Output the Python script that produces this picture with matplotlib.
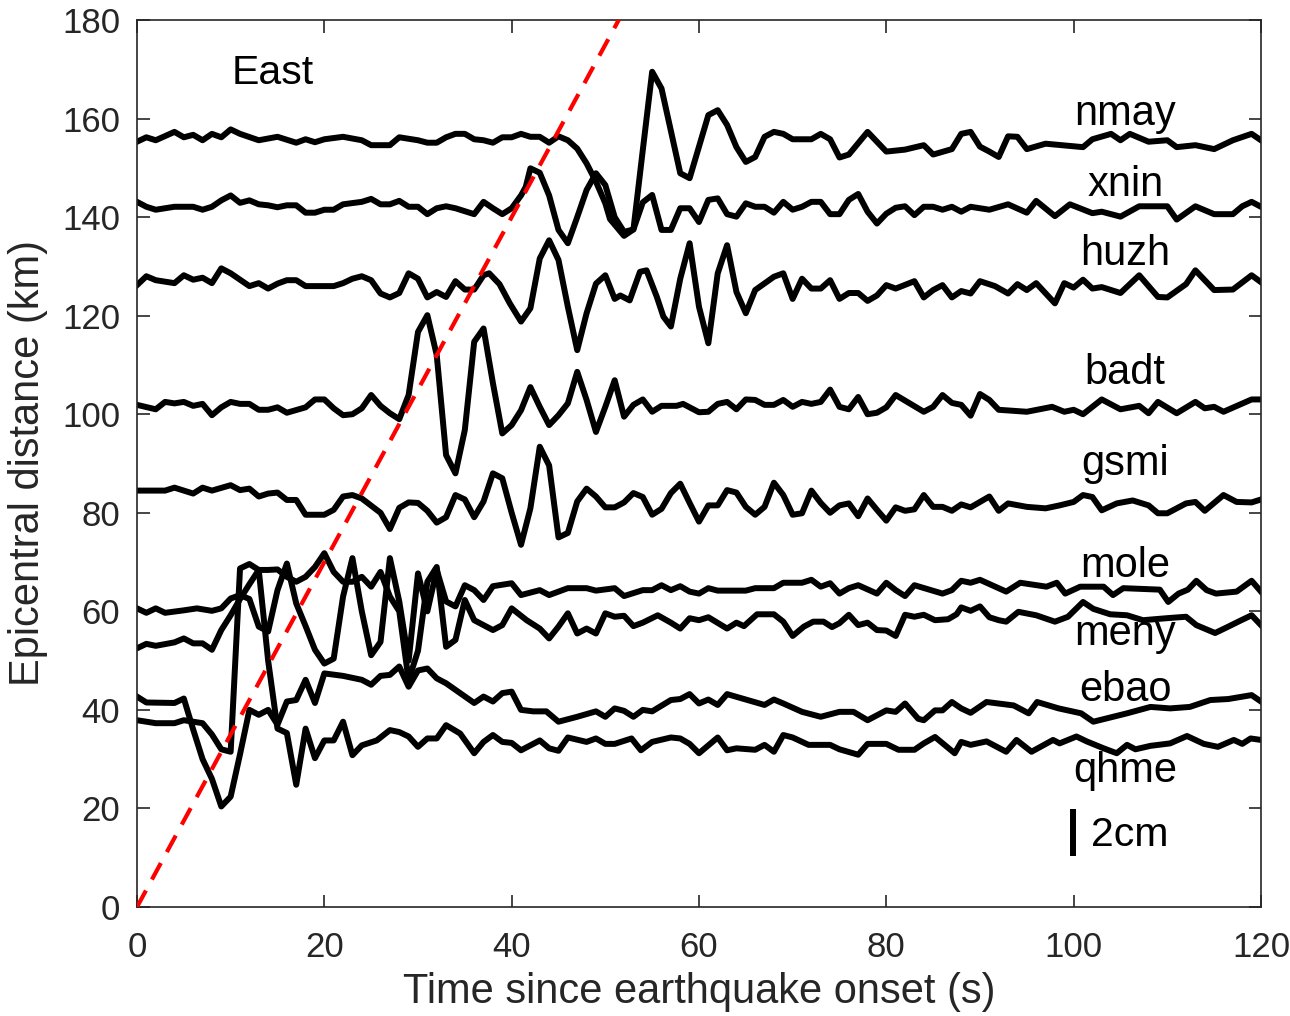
import matplotlib
matplotlib.use('Agg')
import matplotlib.pyplot as plt

plt.rcParams['font.family'] = ['Liberation Sans', 'DejaVu Sans']

# ---- data: displacement traces plotted at epicentral distance (km) vs time (s)
nmay_t = [0,1,2,4,5,6,7,8,9,10,11,13,15,17,18,19,20,22,24,25,27,28,30,31,32,33,34,35,36,37,38,39,40,41,42,43,44,45,46,47,48,49,50,50.5,52,53,54,55,56,57,58,59,60,61,62,63,64,65,66,67,68,69,70,72,73,74,75,76,78,80,82,84,85,87,88,89,90,91,92,93,94,95,97,101,102,104,105,106,108,110,111,113,115,117,119,120]
nmay_y = [155.3,156.2,155.6,157.3,156.2,156.7,155.6,156.9,156.2,157.8,156.9,155.6,156.3,155.1,155.8,155.2,155.8,156.3,155.6,154.6,154.6,156.2,155.6,155.1,155.1,156.2,156.9,156.9,155.8,155.6,155.1,156.2,156.2,156.9,156.3,156.3,155.1,156.4,155.6,153.9,150.9,147.2,142.8,139.6,136.2,137.5,153.6,169.5,166.1,157.5,148.9,147.9,154.3,160.7,161.7,158.7,154.2,151.2,152.2,156.3,157.3,156.9,155.8,155.8,156.9,155.8,152.1,152.7,157.3,153.3,153.7,154.6,152.7,153.8,156.9,157.3,154.3,153.3,152.2,156.4,156.3,153.8,154.9,154.2,155.8,156.9,155.6,156.9,155.3,155.6,154.2,154.6,153.8,155.6,156.9,155.6]

xnin_t = [0,1,2,4,6,7,8,9,10,11,12,13,14,15,16,17,18,19,20,21,22,24,25,26,27,28,29,30,31,32,33,34,36,37,38,39,40,41,41.5,42,43,44,45,46,47,48,49,50,51,52,53,54,55,56,57,58,59,60,61,62,63,64,65,66,67,68,69,70,71,72,73,74,75,76,77,78,79,80,81,82,83,84,85,86,87,88,89,91,93,95,96,98,99.6,102,103,105,107,110,111,113,115,117,118,119,120]
xnin_y = [143.1,142.1,141.5,142.1,142.1,141.5,142.1,143.4,144.4,142.9,143.4,142.6,142.4,142.0,142.4,142.4,140.9,140.9,141.5,141.5,142.6,143.1,143.7,142.6,142.6,143.3,142.1,142.1,140.6,141.8,142.2,141.8,140.6,143.1,141.8,140.6,141.8,144.4,146.1,149.9,149.0,144.4,137.4,134.7,140.0,145.5,148.9,146.5,140.0,137.0,137.5,143.0,144.5,137.4,137.4,141.8,141.8,139.0,143.5,143.8,140.6,140.1,142.8,142.1,142.1,140.9,143.1,141.5,142.1,143.1,143.1,140.6,140.6,143.5,144.7,141.1,138.7,140.7,141.9,142.2,140.4,142.1,142.1,141.5,142.1,141.1,142.1,141.5,142.6,140.9,143.3,140.2,142.6,140.8,141.1,140.1,142.2,142.2,139.5,142.2,140.6,140.6,142.2,143.1,142.1]

huzh_t = [0,1,2,4,5,6,7,8,9,10,12,13,14,15,16,17,18,21,22,23,24,25,26,27,28,29,30,31,32,33,34,35,36,37,37.6,38.7,39.8,41,42,43,44,45,46,47,48,49,50,51,51.6,52.6,53.7,54.4,55.5,56.2,57,58,59,60,61,62,63,64,65,66,68,69,70,71,72,73,74,75,76,77,78,79,80,81,83,84,85,86,87,88,89,90,91.6,93,94,95,96,98,99,100,101,102,103,105,107,109,110,112,113,115,117,119,120]
huzh_y = [126.2,128.0,127.2,126.6,128.2,127.3,127.7,126.6,129.6,128.6,126.0,126.6,125.5,126.5,127.2,127.2,126.0,126.0,126.6,127.5,128.0,127.2,124.5,123.7,124.6,128.6,127.5,123.7,124.8,123.8,127.0,125.3,125.3,128.2,128.6,126.4,122.5,118.8,121.5,131.6,135.3,131.3,121.8,113.0,120.5,126.5,128.2,123.4,124.1,123.1,128.9,129.2,123.8,119.8,117.8,127.5,134.7,121.8,114.4,128.6,134.3,124.8,120.5,125.2,127.9,128.6,123.4,127.5,125.5,125.5,127.2,123.4,124.6,124.6,123.0,124.1,126.2,125.5,127.0,123.7,125.2,126.2,123.7,125.0,124.5,127.0,126.0,124.5,126.4,125.2,126.6,122.5,126.6,125.7,127.3,125.5,125.8,124.6,128.2,123.8,123.7,126.4,129.2,125.2,125.3,128.2,126.8]

badt_t = [0,2,3,4,5,6,7,8,9,10,11,12,13,14,15,16,18,19,20,21,22,23,24,25,26,27,28,29,30,31,32,33,34,35,36,37,38,39,40,41,42,43,44,45,46,47,48,49,50,51,52,53,54,55,56,57.6,58.3,60,61,62,63,64,65,66,67,68,69,70,71,72,73,74,75,76,77,78,79,80,81,82.5,84,85,86,87,88,89,90,91,92,95,97.7,99,100,101,103,105,107,108,109,111,113,114,115,116,119,120]
badt_y = [101.9,101.0,102.5,102.2,102.5,101.7,102.1,99.8,101.4,102.5,102.1,102.1,100.9,100.9,101.4,100.3,101.4,103.0,103.0,101.2,99.8,100.0,101.2,103.9,101.7,100.2,99.0,103.9,116.7,120.1,112.0,91.7,88.0,96.8,114.7,117.4,106.3,96.1,97.8,100.8,105.5,101.5,97.8,99.8,102.2,108.6,102.9,96.4,101.5,106.9,99.5,101.9,103.0,100.5,101.7,101.7,102.1,100.4,100.5,102.1,102.5,101.0,103.0,102.9,101.9,101.9,102.9,101.5,102.5,102.1,102.5,105.0,101.5,101.0,103.5,100.0,100.3,101.4,103.9,102.2,100.5,101.5,103.9,102.3,101.9,99.7,104.1,102.9,100.9,100.5,101.5,100.5,100.9,100.0,103.0,101.0,101.7,100.2,102.5,100.2,102.5,101.2,101.5,100.5,103.0,103.0]

gsmi_t = [0,3,4,6,7,8,10,11,12,13,14,15,16,17,18,20,21,22,23,24,26,27,28,29,30,31,32,33,34,35,36,37,38,39,40,41,42,43,44,45,46,47,48,49,50,51,52,53,54,55,56,57,58,59,60,61,62,63,64,65,66,67,68,69,70,71,72,73,74,75,76,77,78,79,80,81,82,83,84,85,86,87,88,89,90,91,92,93,95,97,98.5,100,101,102,103,104.6,106.3,108,109,110,112,113,114,116,117.4,119,120]
gsmi_y = [84.5,84.5,85.1,83.9,85.1,84.5,85.6,84.6,84.9,83.3,83.9,84.1,82.6,82.6,79.6,79.6,80.6,83.3,83.6,82.9,80.0,76.7,81.0,82.1,82.0,80.4,78.0,79.1,83.6,82.7,79.1,82.3,88.0,87.0,80.0,73.5,80.9,93.4,89.6,75.0,75.9,82.3,84.9,83.3,81.1,81.1,82.1,84.0,83.2,79.6,80.8,84.0,85.9,82.0,78.2,81.5,81.5,84.6,84.1,81.2,79.6,81.2,86.1,83.6,79.6,79.9,84.5,82.0,80.0,81.5,81.9,79.3,82.9,80.6,78.4,81.1,80.4,80.7,83.6,81.2,81.2,80.4,81.7,81.1,82.2,83.3,80.4,81.9,81.2,80.9,81.5,82.2,83.6,83.2,80.5,81.9,82.5,81.5,79.9,79.9,81.9,82.2,80.4,83.6,82.2,82.1,82.7]

mole_t = [0,1,2,3,5,6.4,8,9,10,11,12,13,14,15,16,17,18,19,20,21,22,23,24,25,26,27,28,29,30,31,32,33,34,35,36,37,38,40,41,43,44,46,48,49,51,52,54,55,56,57,58,59,60,61,62,65,66,68,69,71,72,73,74,75,76,77,79,80,81,82,83,86,87,88,89,90,92.8,94.3,97.1,98.2,99.1,100.7,103.2,104.2,105.3,109.2,110.1,111.2,112.2,113.1,114.2,115.2,117.4,119,120]
mole_y = [60.6,59.7,60.6,59.7,60.2,60.6,60.1,60.6,62.6,63.3,62.5,56.9,55.9,64.3,69.7,61.6,57.0,52.2,49.4,50.4,63.0,70.8,60.0,51.1,53.8,70.8,62.0,50.0,67.7,60.0,68.4,62.0,61.0,65.3,64.3,62.3,65.1,65.7,63.3,64.3,63.3,64.7,64.7,64.2,64.7,63.1,64.3,64.3,65.3,64.3,65.1,64.0,63.6,64.7,64.2,64.2,64.7,64.7,65.8,65.8,66.4,65.0,65.7,63.6,64.7,65.3,63.6,65.8,64.3,63.1,65.3,63.6,64.3,66.2,65.8,66.4,64.0,65.8,65.0,65.8,63.6,65.0,65.0,63.3,64.7,64.4,61.9,63.6,64.4,66.2,64.3,63.6,64.0,66.2,64.0]

meny_t = [0,1,2,4,5,6,7,8,9,10,11,12,13,14,15,16,17,18,19,20,21,22,23,24,25,26,27,28,29,30,31,32,33,34,35,36,38,39,40,41.6,43,44,45,46,47,48,49,50,51,52,53,54,55.6,57,58,59,60,61,63,64,64.8,66.2,68,69,70,71.2,72.2,73.3,74.2,75,76,77,78,79,80,81,82,83,84,85.2,86.6,87.5,88,89,90,91,92,92.8,94.1,96,98,99.4,101,102.1,103.9,105.7,107.4,109.9,112,113.1,115.1,116.3,117.9,119,120]
meny_y = [52.5,53.4,53.0,53.7,54.5,53.5,53.5,52.2,56.2,59.2,62.5,65.5,68.4,68.4,68.5,67.0,66.0,67.0,69.0,71.8,68.0,66.0,66.0,67.0,65.0,68.0,63.0,60.0,46.0,52.0,66.0,69.0,52.8,54.2,62.3,58.2,56.2,57.2,60.6,58.2,56.5,54.5,56.9,59.6,55.5,56.5,55.5,59.6,58.9,59.1,57.0,57.7,59.2,57.7,56.5,58.6,58.2,58.8,56.5,57.7,57.0,59.4,59.4,57.9,55.0,56.9,57.9,57.9,56.8,57.6,59.3,57.2,57.7,56.2,56.1,55.0,59.3,58.9,59.3,58.2,58.4,59.4,60.8,60.1,61.0,58.8,58.2,57.9,59.9,59.2,57.9,58.9,61.9,60.5,59.4,59.2,58.2,58.6,58.9,57.2,55.6,56.7,58.2,59.2,57.2]

ebao_t = [0,1,4,5,6,7,8,9,10,11,12,13,14,15,16,17,18,19,20,22,24,25,26,27,28,29,30,31,32,33,34.5,36,37,38,39,40,41,42.3,43.7,45,47,49,50,51,52,53,54,55,57,58,59,60,61,62,63,67,68,69,71,73,75,76.5,78,80,81,82,83.4,84,85.2,86,87,88,89,90.7,93.6,95.2,96.1,98.4,100.8,102.1,105.7,108.2,110.3,112.4,114.6,116.5,119,120]
ebao_y = [42.7,41.5,41.4,42.3,36.0,30.0,26.0,20.4,22.4,31.0,40.0,39.0,40.0,37.0,41.7,42.0,46.1,41.4,47.4,46.9,46.1,45.1,46.9,47.1,48.8,44.7,48.0,48.4,46.4,45.4,43.4,41.4,42.7,41.7,43.4,43.7,40.0,39.7,39.7,37.6,38.6,39.7,38.6,40.3,39.8,38.6,40.0,39.7,42.0,42.2,43.2,41.3,42.1,41.0,43.2,41.0,42.1,41.3,39.6,38.6,39.6,39.6,37.9,39.9,39.6,41.3,38.2,37.9,39.9,39.9,41.6,40.3,39.4,41.6,40.9,39.3,41.6,40.3,39.3,37.6,39.3,40.6,40.3,40.6,42.0,42.2,43.0,41.7]

qhme_t = [0,2,4,5,7,8,9,10,11,12,13,14,15,16,17,18,19,20,21,22,23,24,25.6,27,28,29,30,31,32,33,34.5,36,37,38,39,40,41,43,44,45,46,48,49,50,51,52.8,53.8,55,57,58,59,60,62,63,64,66,67,68,69,70,71.7,74,75,77,78,80,81.3,83,84,85.2,87.3,88,89,90.7,92.8,93.9,95.5,97.8,98.5,100.3,101.4,103.2,104.6,105.7,106.6,108.2,110.3,112.1,113.9,115.4,117.1,118,118.9,120]
qhme_y = [37.9,37.3,37.3,37.9,37.3,35.0,32.0,31.5,68.7,69.6,68.4,50.0,36.2,35.3,24.8,36.2,30.2,33.8,33.8,37.6,30.8,32.8,33.8,35.9,35.5,34.6,32.5,34.2,34.2,36.9,35.2,31.2,33.5,34.9,33.5,33.3,31.8,33.8,32.2,31.7,34.4,33.5,34.2,33.1,33.1,34.2,31.8,33.5,34.4,34.2,33.1,31.2,34.4,31.8,32.2,31.9,32.9,31.5,34.9,34.4,32.9,32.9,32.0,30.9,33.1,33.1,31.9,31.9,33.2,34.5,31.2,33.5,32.9,33.6,31.5,33.9,31.5,33.9,33.2,34.6,33.6,32.2,31.2,32.9,32.0,32.7,33.2,34.7,33.1,32.5,33.9,33.1,34.2,33.9]

stations = ['nmay', 'xnin', 'huzh', 'badt', 'gsmi', 'mole', 'meny', 'ebao', 'qhme']
label_y = [161.0, 146.6, 132.5, 108.4, 89.9, 69.2, 55.4, 44.1, 27.5]
traces = [(nmay_t, nmay_y), (xnin_t, xnin_y), (huzh_t, huzh_y), (badt_t, badt_y),
          (gsmi_t, gsmi_y), (mole_t, mole_y), (meny_t, meny_y), (ebao_t, ebao_y),
          (qhme_t, qhme_y)]

v_p = 3.5  # km/s, apparent velocity of red dashed line

fig = plt.figure(figsize=(12.9, 10.16), dpi=100)
ax = fig.add_axes([0.1062, 0.1073, 0.8713, 0.8730])

ax.plot([0, 120], [0, 120 * v_p], color='red', lw=3, dashes=(4.5, 3), zorder=3)

for t, y in traces:
    ax.plot(t, y, color='black', lw=4.3, solid_joinstyle='round', zorder=2)

for name, ly in zip(stations, label_y):
    ax.text(105.5, ly, name, fontsize=30, ha='center', va='center')

ax.text(10.1, 169.2, 'East', fontsize=29.5, ha='left', va='center')

# scale bar (2 cm)
ax.plot([99.9, 99.9], [10.4, 19.8], color='black', lw=4.3, solid_capstyle='butt')
ax.text(101.8, 14.6, '2cm', fontsize=29.5, ha='left', va='center')

ax.set_xlim(0, 120)
ax.set_ylim(0, 180)
ax.set_xticks(range(0, 121, 20))
ax.set_yticks(range(0, 181, 20))
ax.tick_params(direction='in', length=9, width=1.2, labelsize=25, colors='#262626',
               top=True, right=True)
ax.tick_params(axis='x', pad=17)
ax.tick_params(axis='y', pad=12)
for s in ax.spines.values():
    s.set_color('#262626')
    s.set_linewidth(1.2)
ax.set_xlabel('Time since earthquake onset (s)', fontsize=30, color='#262626', labelpad=6)
ax.set_ylabel('Epicentral distance (km)', fontsize=30, color='#262626', labelpad=10)

fig.savefig('out.png', dpi=100)
